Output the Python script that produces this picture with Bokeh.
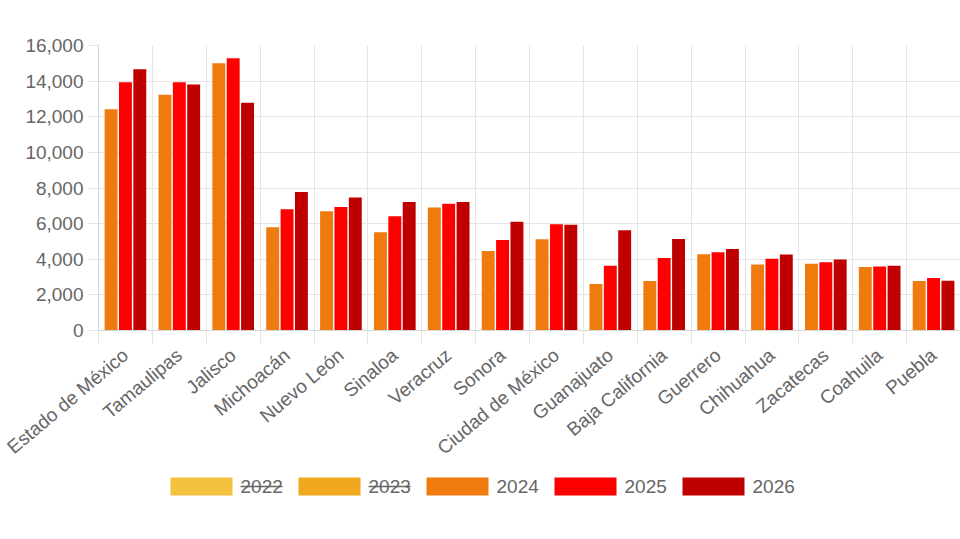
from bokeh.plotting import figure
from bokeh.layouts import column
from bokeh.models import ColumnDataSource, FixedTicker, NumeralTickFormatter, Range1d
from bokeh.transform import dodge
from bokeh.core.properties import value
from bokeh.embed import file_html
from bokeh.resources import INLINE

FONT = 'Liberation Sans'
TEXT = '#666666'
GRID = '#e5e5e5'
AXIS = '#d6d6d6'
SIZE = '19px'

states = ['Estado de México', 'Tamaulipas', 'Jalisco', 'Michoacán', 'Nuevo León',
          'Sinaloa', 'Veracruz', 'Sonora', 'Ciudad de México', 'Guanajuato',
          'Baja California', 'Guerrero', 'Chihuahua', 'Zacatecas', 'Coahuila', 'Puebla']

v2024 = [12420, 13230, 15010, 5800, 6700, 5520, 6900, 4470, 5120, 2610,
         2780, 4280, 3700, 3750, 3560, 2780]
v2025 = [13940, 13940, 15290, 6810, 6940, 6420, 7110, 5080, 5970, 3640,
         4070, 4390, 4030, 3830, 3600, 2950]
v2026 = [14670, 13810, 12780, 7770, 7470, 7220, 7220, 6100, 5930, 5630,
         5140, 4580, 4260, 3980, 3640, 2800]

years = ['2022', '2023', '2024', '2025', '2026']
colors = ['#f4c23e', '#f0a81f', '#ef7b0f', '#ff0000', '#bf0000']
hidden = [True, True, False, False, False]

y_ticks = [0, 2000, 4000, 6000, 8000, 10000, 12000, 14000, 16000]

W = 960
LEFT = 98

# category centres on a numeric axis so the grid can sit on the boundaries
centers = [i + 0.5 for i in range(len(states))]
bounds = list(range(len(states) + 1))

source = ColumnDataSource(dict(x=centers, state=states,
                               y2024=v2024, y2025=v2025, y2026=v2026))

p = figure(
    width=W,
    height=469,
    x_range=Range1d(0, len(states)),
    y_range=Range1d(0, 16000),
    toolbar_location=None,
    tools='',
    output_backend='svg',
    min_border_left=LEFT,
    min_border_top=45,
    min_border_right=0,
    min_border_bottom=139,
)
p.outline_line_color = None

# visible series only: 2024, 2025, 2026 (Chart.js-like 0.8 x 0.9 widths)
bar_w = 0.8 * 0.9 / 3
slot = 0.8 / 3
for k, (yr, col) in enumerate(zip(years[2:], colors[2:])):
    p.vbar(
        source=source,
        x=dodge('x', (k - 1) * slot, range=p.x_range),
        top='y' + yr,
        width=bar_w,
        color=col,
        line_color=None,
    )

p.xgrid.ticker = FixedTicker(ticks=bounds)
p.xgrid.grid_line_color = GRID
p.ygrid.ticker = FixedTicker(ticks=y_ticks)
p.ygrid.grid_line_color = GRID

p.xaxis.ticker = FixedTicker(ticks=centers, minor_ticks=bounds)
p.xaxis.major_label_overrides = {c: s for c, s in zip(centers, states)}
p.xaxis.major_label_orientation = 0.7
p.xaxis.major_tick_line_color = None
p.xaxis.major_tick_out = 13
p.xaxis.minor_tick_in = 0
p.xaxis.minor_tick_out = 13
p.xaxis.minor_tick_line_color = GRID
p.xaxis.axis_line_color = AXIS
p.xaxis.major_label_standoff = 9

p.yaxis.ticker = FixedTicker(ticks=y_ticks)
p.yaxis.formatter = NumeralTickFormatter(format='0,0')
p.yaxis.major_tick_in = 0
p.yaxis.major_tick_out = 10
p.yaxis.major_tick_line_color = GRID
p.yaxis.minor_tick_line_color = None
p.yaxis.axis_line_color = AXIS
p.yaxis.major_label_standoff = 5

p.axis.major_label_text_font = FONT
p.axis.major_label_text_font_size = SIZE
p.axis.major_label_text_color = TEXT

# legend row, drawn by hand so hidden years can be struck through.
# its frame lines up with the main frame, so x runs in page pixels
leg = figure(
    width=W,
    height=46,
    x_range=Range1d(LEFT, W),
    y_range=Range1d(0, 46),
    toolbar_location=None,
    tools='',
    output_backend='svg',
    min_border=0,
    min_border_left=LEFT,
)
leg.axis.visible = False
leg.grid.visible = False
leg.outline_line_color = None

step = 128
sw_w = 62
lx = [170 + i * step for i in range(len(years))]
leg_y = 29
leg_src = ColumnDataSource(dict(
    xs=[x + sw_w / 2 for x in lx],
    tx=[x + sw_w + 8 for x in lx],
    y=[leg_y] * len(years),
    year=years,
    color=colors,
))
leg.rect(source=leg_src, x='xs', y='y', width=sw_w, height=18,
         color='color', line_color=None)
leg.text(source=leg_src, x='tx', y='y', text='year',
         text_font=value(FONT), text_font_size=SIZE, text_color=TEXT,
         text_baseline='middle', text_align='left')

strike = [x + sw_w + 8 for x, h in zip(lx, hidden) if h]
leg.segment(x0=strike, x1=[x + 42 for x in strike], y0=[leg_y] * len(strike),
            y1=[leg_y] * len(strike), line_color=TEXT, line_width=1.5)

layout = column(p, leg, spacing=0)

open("out.html", "w").write(file_html(layout, INLINE))
